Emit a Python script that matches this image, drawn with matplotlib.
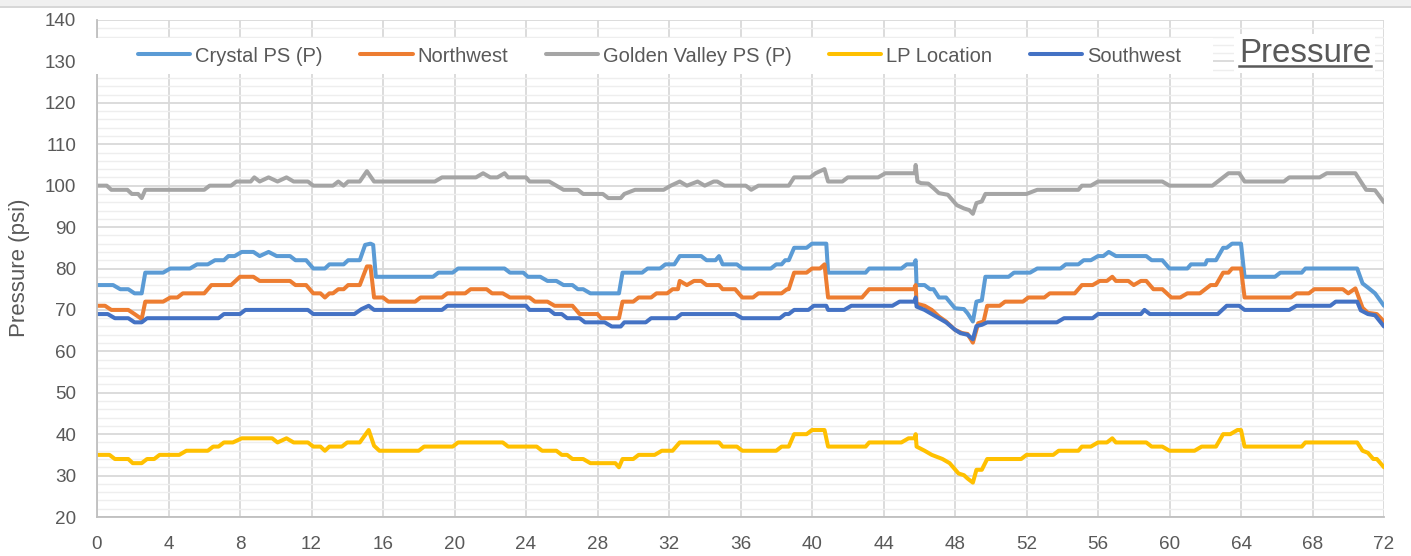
import matplotlib
matplotlib.use('Agg')
import matplotlib.pyplot as plt
from matplotlib.ticker import MultipleLocator
from matplotlib.patches import Rectangle
from matplotlib.lines import Line2D
from matplotlib import font_manager

# ---- data (hours, psi) ----
crystal_t = [0, 0.9, 1.3, 1.75, 2.1, 2.5, 2.7, 3.7, 4.1, 5.2, 5.6, 6.2, 6.6, 7.1, 7.35, 7.7, 8.1, 8.75, 9.1, 9.6,
             10.05, 10.8, 11.1, 11.7, 12.1, 12.75, 13.0, 13.8, 14.05, 14.7, 15.0, 15.3, 15.45, 15.6, 18.8, 19.1,
             19.9, 20.2, 22.8, 23.1, 23.85, 24.1, 24.8, 25.2, 25.7, 26.1, 26.6, 26.9, 27.2, 27.6, 29.2, 29.4,
             30.5, 30.8, 31.5, 31.8, 32.3, 32.6, 33.8, 34.1, 34.6, 34.8, 35.0, 35.8, 36.1, 37.7, 38.0, 38.3,
             38.5, 38.7, 39.0, 39.7, 40.0, 40.8, 40.9, 43.0, 43.2, 45.0, 45.3, 45.7, 45.8, 45.85, 46.3, 46.6,
             46.8, 47.1, 47.5, 48.0, 48.5, 48.7, 49.0, 49.2, 49.5, 49.7, 51.0, 51.3, 52.2, 52.6, 53.9, 54.2,
             54.9, 55.2, 55.6, 56.0, 56.3, 56.6, 57.0, 58.7, 59.0, 59.6, 60.0, 61.0, 61.2, 62.0, 62.1, 62.6,
             63.0, 63.2, 63.5, 64.0, 64.2, 65.9, 66.2, 67.4, 67.6, 70.5, 70.8, 71.1, 71.5, 72.0]
crystal_p = [76, 76, 75, 75, 74, 74, 79, 79, 80, 80, 81, 81, 82, 82, 83, 83, 84, 84, 83, 84,
             83, 83, 82, 82, 80, 80, 81, 81, 82, 82, 85.7, 86, 85.7, 78, 78, 79,
             79, 80, 80, 79, 79, 78, 78, 77, 77, 76, 76, 75, 75, 74, 74, 79,
             79, 80, 80, 81, 81, 83, 83, 82, 82, 83, 81, 81, 80, 80, 81, 81,
             82, 82, 85, 85, 86, 86, 79, 79, 80, 80, 81, 81, 82, 76, 76, 75,
             75, 73, 73, 70.4, 70.2, 69.2, 67.2, 72, 72.3, 78, 78, 79, 79, 80, 80, 81,
             81, 82, 82, 83, 83, 84, 83, 83, 82, 82, 80, 80, 81, 81, 82, 82,
             85, 85, 86, 86, 78, 78, 79, 79, 80, 80, 76.4, 75.4, 74, 71]

northwest_t = [0, 0.45, 0.8, 1.75, 2.1, 2.5, 2.7, 3.7, 4.1, 4.5, 4.8, 6.0, 6.4, 7.5, 8.0, 8.75, 9.1, 10.8,
               11.1, 11.7, 12.1, 12.5, 12.75, 13.0, 13.2, 13.5, 13.8, 14.05, 14.7, 15.1, 15.3, 15.5, 16.0,
               16.3, 17.8, 18.1, 19.3, 19.6, 20.6, 20.9, 21.8, 22.1, 22.7, 23.1, 24.2, 24.5, 25.2, 25.6,
               26.6, 27.0, 28.0, 28.2, 29.2, 29.4, 30.0, 30.3, 31.0, 31.3, 31.9, 32.2, 32.5, 32.6, 33.0,
               33.4, 33.8, 34.1, 34.8, 35.0, 35.7, 36.1, 36.7, 37.0, 38.3, 38.6, 38.7, 39.0, 39.7, 40.0,
               40.45, 40.7, 40.9, 42.8, 43.2, 45.7, 45.8, 45.85, 46.3, 46.7, 47.1, 47.5, 48.0, 48.4, 48.7,
               49.0, 49.3, 49.6, 49.8, 50.5, 50.8, 51.8, 52.1, 53.0, 53.3, 54.7, 55.1, 55.7, 56.1, 56.5,
               56.8, 57.0, 57.7, 58.0, 58.4, 58.7, 59.1, 59.6, 60.1, 60.6, 61.0, 61.7, 62.0, 62.3, 62.6,
               63.0, 63.3, 63.5, 64.0, 64.2, 66.8, 67.1, 67.8, 68.1, 69.7, 70.0, 70.4, 70.8, 71.1, 71.6, 72.0]
northwest_p = [71, 71, 70, 70, 69, 67.8, 72, 72, 73, 73, 74, 74, 76, 76, 78, 78, 77, 77,
               76, 76, 74, 74, 73, 74, 74, 75, 75, 76, 76, 80.5, 80.5, 73, 73,
               72, 72, 73, 73, 74, 74, 75, 75, 74, 74, 73, 73, 72, 72, 71,
               71, 69, 69, 68, 68, 72, 72, 73, 73, 74, 74, 75, 75, 77, 76,
               77, 77, 76, 76, 75, 75, 73, 73, 74, 74, 75, 75, 79, 79, 80,
               80, 81, 73, 73, 75, 75, 76, 71.5, 71, 70, 68.4, 67.2, 65.2, 64.4, 64.2,
               62.1, 66.8, 67.2, 71, 71, 72, 72, 73, 73, 74, 74, 76, 76, 77, 77,
               78, 77, 77, 76, 77, 77, 75, 75, 73, 73, 74, 74, 75, 76, 76,
               79, 79, 80, 80, 73, 73, 74, 74, 75, 75, 74, 75.2, 70.5, 69.3, 69, 67.2]

golden_t = [0, 0.55, 0.8, 1.7, 1.95, 2.3, 2.5, 2.7, 6.0, 6.3, 7.5, 7.8, 8.6, 8.8, 9.1, 9.6, 10.1, 10.6,
            11.0, 11.8, 12.1, 13.2, 13.5, 13.8, 14.05, 14.7, 15.1, 15.5, 18.9, 19.3, 21.2, 21.6, 22.0,
            22.4, 22.8, 23.0, 24.0, 24.2, 25.3, 25.7, 26.1, 26.9, 27.2, 28.3, 28.6, 29.3, 29.5, 30.1,
            31.7, 32.1, 32.6, 33.0, 33.6, 34.0, 34.5, 34.7, 35.1, 36.3, 36.6, 37.0, 38.7, 39.0, 39.9,
            40.2, 40.7, 40.9, 41.7, 42.0, 43.7, 44.1, 45.75, 45.8, 45.9, 46.1, 46.5, 46.8, 47.1, 47.6,
            48.1, 48.5, 48.8, 49.0, 49.2, 49.5, 49.7, 52.0, 52.6, 54.9, 55.1, 55.6, 56.0, 59.6, 60.0,
            62.4, 63.3, 63.9, 64.2, 66.4, 66.7, 68.4, 68.8, 70.4, 71.0, 71.5, 72.0]
golden_p = [100, 100, 99, 99, 98, 98, 97, 99, 99, 100, 100, 101, 101, 102, 101, 102, 101, 102,
            101, 101, 100, 100, 101, 100, 101, 101, 103.5, 101, 101, 102, 102, 103, 102,
            102, 103, 102, 102, 101, 101, 100, 99, 99, 98, 98, 97, 97, 98, 99,
            99, 100, 101, 100, 101, 100, 101, 101, 100, 100, 99, 100, 100, 102, 102,
            103, 104, 101, 101, 102, 102, 103, 103, 105, 101, 100.6, 100.5, 99.4, 98.2, 97.8,
            95.3, 94.5, 94.1, 93.2, 95.8, 96.2, 98, 98, 99, 99, 100, 100, 101, 101, 100,
            100, 103, 103, 101, 101, 102, 102, 103, 103, 99, 98.9, 96]

lp_t = [0, 0.7, 1.0, 1.75, 2.0, 2.5, 2.8, 3.2, 3.5, 4.6, 5.0, 6.2, 6.5, 6.8, 7.1, 7.6, 8.1, 9.8, 10.1,
        10.6, 11.0, 11.8, 12.1, 12.5, 12.75, 13.0, 13.7, 14.0, 14.7, 15.2, 15.5, 15.8, 18.0, 18.3, 19.9,
        20.2, 22.7, 23.0, 24.6, 24.9, 25.7, 26.0, 26.3, 26.6, 27.2, 27.6, 29.0, 29.2, 29.4, 30.0, 30.3,
        31.2, 31.6, 32.2, 32.6, 34.8, 35.0, 35.8, 36.1, 38.0, 38.3, 38.7, 39.0, 39.7, 40.0, 40.7, 40.9,
        43.0, 43.2, 45.0, 45.4, 45.75, 45.8, 45.85, 46.3, 46.7, 47.3, 47.7, 48.2, 48.5, 48.7, 49.0,
        49.2, 49.5, 49.8, 51.7, 52.0, 53.5, 53.8, 54.9, 55.1, 55.6, 56.0, 56.5, 56.8, 57.0, 58.7, 59.0,
        59.6, 60.0, 61.4, 61.8, 62.6, 63.0, 63.4, 63.8, 64.0, 64.2, 67.4, 67.6, 70.5, 70.8, 71.1, 71.4,
        71.6, 72.0]
lp_p = [35, 35, 34, 34, 33, 33, 34, 34, 35, 35, 36, 36, 37, 37, 38, 38, 39, 39, 38,
        39, 38, 38, 37, 37, 36, 37, 37, 38, 38, 41, 37.2, 36, 36, 37, 37,
        38, 38, 37, 37, 36, 36, 35, 35, 34, 34, 33, 33, 32, 34, 34, 35,
        35, 36, 36, 38, 38, 37, 37, 36, 36, 37, 37, 40, 40, 41, 41, 37,
        37, 38, 38, 39, 39, 40, 37, 36, 35, 34, 33, 30.5, 30.1, 29.3, 28.3,
        31.4, 31.4, 34, 34, 35, 35, 36, 36, 37, 37, 38, 38, 39, 38, 38, 37,
        37, 36, 36, 37, 37, 40, 40, 41, 41, 37, 37, 38, 38, 36, 35.5, 34,
        34, 32]

southwest_t = [0, 0.6, 1.0, 1.75, 2.1, 2.5, 2.8, 6.8, 7.1, 8.0, 8.3, 11.8, 12.1, 14.4, 14.8, 15.2, 15.5,
               19.3, 19.6, 24.0, 24.2, 25.3, 25.6, 26.0, 26.3, 27.0, 27.3, 28.4, 28.8, 29.3, 29.5, 30.7,
               31.0, 32.4, 32.7, 35.7, 36.1, 38.2, 38.5, 38.7, 39.0, 39.8, 40.1, 40.8, 40.9, 41.8, 42.2,
               44.5, 44.9, 45.75, 45.8, 45.85, 46.3, 46.7, 47.1, 47.5, 48.0, 48.3, 48.7, 49.0, 49.2, 49.5,
               49.8, 53.7, 54.1, 55.7, 56.0, 58.4, 58.6, 58.9, 62.7, 63.2, 63.9, 64.2, 66.7, 67.1, 69.0,
               69.3, 70.5, 70.7, 71.1, 71.5, 72.0]
southwest_p = [69, 69, 68, 68, 67, 67, 68, 68, 69, 69, 70, 70, 69, 69, 70.2, 71, 70,
               70, 71, 71, 70, 70, 69, 69, 68, 68, 67, 67, 66, 66, 67, 67,
               68, 68, 69, 69, 68, 68, 69, 69, 70, 70, 71, 71, 70, 70, 71,
               71, 72, 72, 73, 70.8, 70, 69, 68, 67, 65.2, 64.4, 64, 62.9, 66.1, 66.4,
               67, 67, 68, 68, 69, 69, 70, 69, 69, 71, 71, 70, 70, 71, 71,
               72, 72, 69.9, 69, 68.7, 66]

series = [
    ("Crystal PS (P)", crystal_t, crystal_p, "#5B9BD5"),
    ("Northwest", northwest_t, northwest_p, "#ED7D31"),
    ("Golden Valley PS (P)", golden_t, golden_p, "#A5A5A5"),
    ("LP Location", lp_t, lp_p, "#FFC000"),
    ("Southwest", southwest_t, southwest_p, "#4472C4"),
]

# ---- fonts ----
names = {f.name for f in font_manager.fontManager.ttflist}
if 'Liberation Sans Narrow' in names:
    narrow = ['Liberation Sans Narrow', 'DejaVu Sans']
    k = 1.0
    leg_size = 16.5
    title_size = 28
else:
    narrow = ['Liberation Sans', 'DejaVu Sans']
    k = 0.88
    leg_size = 14.5
    title_size = 23.8
txt = '#595959'

W, H = 1411, 556
fig = plt.figure(figsize=(W / 100, H / 100), dpi=100)
ax = fig.add_axes([97 / W, 39 / H, 1287 / W, 497 / H])

for label, t, p, c in series:
    ax.plot(t, p, color=c, lw=2.9, label=label, solid_joinstyle='round', solid_capstyle='round')

ax.set_xlim(0, 72)
ax.set_ylim(20, 140)
ax.xaxis.set_major_locator(MultipleLocator(4))
ax.yaxis.set_major_locator(MultipleLocator(10))
ax.yaxis.set_minor_locator(MultipleLocator(2))
ax.set_axisbelow(True)
ax.grid(which='major', color='#D9D9D9', lw=1.3)
ax.grid(which='minor', axis='y', color='#EEEEEE', lw=1.0)
ax.tick_params(which='both', length=0)
ax.tick_params(axis='x', pad=14)
ax.tick_params(axis='y', pad=15)
for lab in ax.get_xticklabels() + ax.get_yticklabels():
    lab.set_fontfamily(narrow)
    lab.set_fontsize(15.5 * k)
    lab.set_color(txt)
for s in ['top', 'right']:
    ax.spines[s].set_visible(False)
for s in ['left', 'bottom']:
    ax.spines[s].set_color('#BFBFBF')
    ax.spines[s].set_linewidth(1.3)

fig.text(20 / W, 1 - 268 / H, 'Pressure (psi)', rotation=90, ha='center', va='center',
         fontsize=16, color=txt, family=['Liberation Sans', 'DejaVu Sans'])

# white box behind the legend
ax.add_patch(Rectangle(((95 - 97) / 1287, (517 - 74) / 497), (1213 - 95) / 1287, 36 / 497,
                       transform=ax.transAxes, fc='white', ec='none', zorder=3, clip_on=False))

leg = ax.legend(loc='center left', bbox_to_anchor=((138 - 97) / 1287, (517 - 56) / 497), ncol=5,
                frameon=False, handlelength=2.6, handletextpad=0.25, columnspacing=1.85,
                borderpad=0, borderaxespad=0, prop={'family': narrow, 'size': leg_size})
leg.set_zorder(5)
for t in leg.get_texts():
    t.set_color(txt)

title = ax.text((1371 - 97) / 1287, (517 - 62) / 497, 'Pressure', transform=ax.transAxes,
                ha='right', va='baseline', fontsize=title_size, color=txt, family=narrow,
                bbox=dict(fc='white', ec='none', pad=3), zorder=6)

# grey page strip at the very top
fig.patches.append(Rectangle((0, 1 - 6 / H), 1, 6 / H, transform=fig.transFigure,
                             fc='#F0F0F0', ec='none'))
fig.add_artist(Line2D([0, 1], [1 - 6.5 / H, 1 - 6.5 / H], transform=fig.transFigure,
                      color='#D0D0D0', lw=1.2))

# underline the title
fig.canvas.draw()
bb = title.get_window_extent()
yl = 1 - 66 / H
fig.add_artist(Line2D([bb.x0 / W, bb.x1 / W], [yl, yl], transform=fig.transFigure,
                      color=txt, lw=1.8, zorder=7))

fig.savefig('out.png', dpi=100)
